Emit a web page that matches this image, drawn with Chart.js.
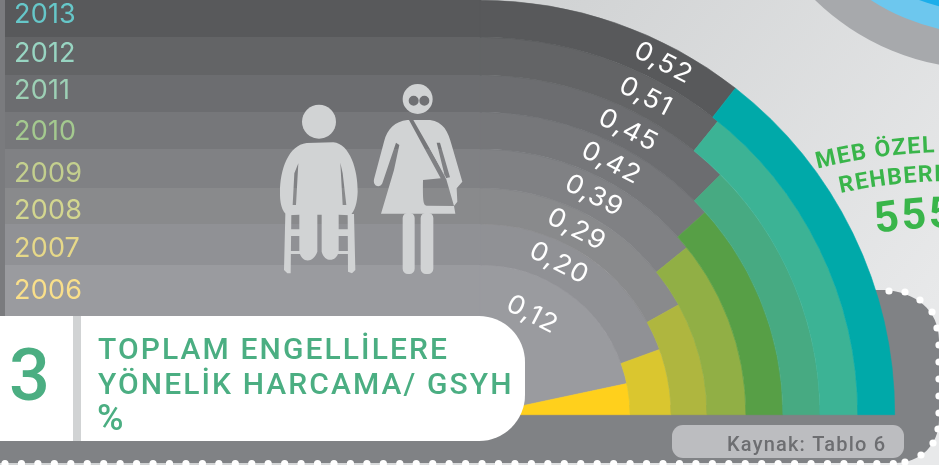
<!DOCTYPE html>
<html><head><meta charset="utf-8">
<style>html,body{margin:0;padding:0;background:#d8d9db;overflow:hidden}#w{position:absolute;left:0;top:0;width:939px;height:465px}</style>
<script src="https://cdn.jsdelivr.net/npm/chart.js@4"></script>
</head><body><div id="w"><canvas id="c" width="939" height="465"></canvas></div>
<script>
const years = ['2013','2012','2011','2010','2009','2008','2007','2006'];
const values = [0.52,0.51,0.45,0.42,0.39,0.29,0.20,0.12];
const valueLabels = ['0,52','0,51','0,45','0,42','0,39','0,29','0,20','0,12'];
const ringColors = ['#00a9a9','#3cb395','#47aa82','#579f46','#91af45','#afb63f','#dac62f','#ffd01c'];
const bandColors = ['#58595b','#636466','#6c6d70','#76777a','#808184','#898a8c','#909195','#9a9b9f'];
const yearColors = ['#66c7c9','#98d5c2','#9dd0b5','#a4c98f','#c3cf8e','#d3d68f','#e6d889','#f9df8a'];
const ringWeights = [37,38,37,37,39,36,41,150];
const labelInset = [18,19,19,19,19,18,20,37];
const yearBaselines = [23,62,99,140,182,219,257,299];
const FULL = 0.9;
const GREEN='#4bae82', LIGHT='#d1d3d4', DARK='#808285';
const FONT='Roboto, "Noto Sans", sans-serif';

function circ(ctx,x,y,r){ctx.moveTo(x+r,y);ctx.arc(x,y,r,0,Math.PI*2);}
function dotsAlong(ctx,pts){ctx.fillStyle='#fff';ctx.beginPath();pts.forEach(p=>circ(ctx,p[0],p[1],3.6));ctx.fill();}
function arcText(ctx,text,cx,cy,r,startDeg,font,color,spacing){
  ctx.save();ctx.font=font;ctx.fillStyle=color;ctx.textAlign='left';ctx.textBaseline='alphabetic';
  let a=startDeg*Math.PI/180;
  for(const ch of text){
    const cw=ctx.measureText(ch).width,w=cw+spacing;
    const t=a-w/2/r;
    ctx.save();ctx.translate(cx-r*Math.sin(t),cy-r*Math.cos(t));ctx.rotate(-t);
    ctx.fillText(ch,-cw/2,0);ctx.restore();
    a-=w/r;
  }
  ctx.restore();
}
function spaced(ctx,text,x,y,font,color,ls){ctx.save();ctx.font=font;ctx.fillStyle=color;ctx.letterSpacing=ls+'px';ctx.textAlign='left';ctx.textBaseline='alphabetic';ctx.fillText(text,x,y);ctx.restore();}
function rr(ctx,x,y,w,h,r){ctx.roundRect(x,y,w,h,r);}

function drawBackdrop(chart){
  const ctx=chart.ctx;ctx.save();
  const g=ctx.createLinearGradient(560,0,939,300);g.addColorStop(0,'#d1d3d4');g.addColorStop(1,'#e8e9ea');
  ctx.fillStyle=g;ctx.fillRect(0,0,939,465);
  [[244,'#a7a9ac'],[209,'#6dc7ee'],[187,'#1caeea']].forEach(a=>{ctx.fillStyle=a[1];ctx.beginPath();circ(ctx,985,-175,a[0]);ctx.fill();});
  ctx.fillStyle=DARK;ctx.beginPath();ctx.moveTo(0,405);ctx.lineTo(860,405);ctx.lineTo(860,290);ctx.lineTo(885,290);
  ctx.bezierCurveTo(915,292,939,310,939,340);ctx.lineTo(939,420);ctx.bezierCurveTo(939,445,920,463,895,463);ctx.lineTo(0,463);ctx.closePath();ctx.fill();
  ctx.fillStyle='#7a7b7e';ctx.fillRect(0,0,5,320);
  ctx.fillStyle=bandColors[7];ctx.fillRect(5,300,480,20);
  const metas=chart.getSortedVisibleDatasetMetas();
  metas.forEach((m,i)=>{const e=m.data[0];ctx.fillStyle=bandColors[i];ctx.fillRect(5,Math.round(e.y-e.outerRadius),e.x-4,Math.round(e.outerRadius));});
  ctx.restore();
}
function drawMan(ctx){
  ctx.save();ctx.translate(270,70);ctx.scale(1/3,1/3);ctx.fillStyle=LIGHT;
  ctx.beginPath();circ(ctx,147,155,51);ctx.fill();
  ctx.beginPath();
  ctx.moveTo(110,219);ctx.lineTo(190,217);ctx.bezierCurveTo(240,222,264,300,263,365);ctx.bezierCurveTo(262,395,255,425,240,436);
  ctx.lineTo(206,434);ctx.lineTo(206,545);ctx.bezierCurveTo(200,575,165,580,155,545);ctx.lineTo(155,434);ctx.lineTo(142,434);ctx.lineTo(142,545);ctx.bezierCurveTo(130,580,95,580,88,545);ctx.lineTo(88,434);
  ctx.lineTo(52,436);ctx.bezierCurveTo(35,425,29,395,30,365);ctx.bezierCurveTo(30,300,55,225,110,219);ctx.closePath();
  ctx.moveTo(85,280);ctx.lineTo(78,405);ctx.lineTo(68,405);ctx.lineTo(73,310);ctx.closePath();
  ctx.moveTo(211,278);ctx.lineTo(218,310);ctx.lineTo(229,405);ctx.lineTo(218,405);ctx.closePath();
  ctx.fill('evenodd');
  ctx.beginPath();
  ctx.moveTo(46,432);ctx.lineTo(64,432);ctx.lineTo(62,610);ctx.lineTo(52,610);ctx.lineTo(42,600);ctx.closePath();
  ctx.moveTo(233,432);ctx.lineTo(252,432);ctx.lineTo(256,600);ctx.lineTo(246,610);ctx.lineTo(234,605);ctx.closePath();
  ctx.rect(60,478,30,20);ctx.rect(204,478,32,20);ctx.rect(60,543,30,9);ctx.rect(204,543,32,9);
  ctx.fill();
  ctx.restore();
}
function drawWoman(ctx){
  ctx.save();ctx.translate(270,70);ctx.scale(1/3,1/3);ctx.fillStyle=LIGHT;
  ctx.beginPath();circ(ctx,443,87,45);ctx.fill();
  ctx.fillStyle='#6f7073';ctx.beginPath();circ(ctx,431,92,15);circ(ctx,463,92,15);ctx.fill();
  ctx.fillStyle=LIGHT;
  ctx.beginPath();
  ctx.moveTo(412,150);ctx.lineTo(480,150);ctx.bezierCurveTo(520,155,535,185,545,225);ctx.lineTo(577,335);ctx.lineTo(560,355);ctx.lineTo(562,395);ctx.lineTo(552,408);ctx.lineTo(556,431);
  ctx.lineTo(333,431);ctx.lineTo(372,300);ctx.lineTo(388,225);ctx.lineTo(378,218);ctx.lineTo(337,340);ctx.bezierCurveTo(330,355,308,350,312,328);ctx.lineTo(342,215);ctx.bezierCurveTo(352,175,375,155,412,150);ctx.closePath();
  ctx.moveTo(417,150);ctx.lineTo(430,150);ctx.lineTo(526,318);ctx.lineTo(552,408);ctx.lineTo(470,407);ctx.bezierCurveTo(460,405,458,395,459,330);ctx.lineTo(512,325);ctx.closePath();
  ctx.moveTo(500,218);ctx.lineTo(510,218);ctx.lineTo(540,322);ctx.lineTo(526,325);ctx.closePath();
  ctx.fill('evenodd');
  ctx.beginPath();ctx.moveTo(435,150);ctx.lineTo(470,155);ctx.lineTo(525,320);ctx.closePath();ctx.fill();
  ctx.beginPath();ctx.roundRect(398,428,36,184,16);ctx.roundRect(452,428,38,184,16);ctx.fill();
  ctx.restore();
}
function drawOverlay(chart){
  const ctx=chart.ctx;ctx.save();
  const metas=chart.getSortedVisibleDatasetMetas();
  const tilt=27.5*Math.PI/180;
  ctx.textAlign='center';ctx.textBaseline='middle';
  metas.forEach((m,i)=>{
    const e=m.data[0],r=e.outerRadius-labelInset[i];
    ctx.save();ctx.translate(e.x+r*Math.sin(tilt),e.y-r*Math.cos(tilt));ctx.rotate(tilt);ctx.scale(1.06,1);
    ctx.font='400 26px Inter, Lato, sans-serif';ctx.letterSpacing='1px';ctx.fillStyle='#fff';
    ctx.fillText(valueLabels[i],0,0);ctx.restore();
    spaced(ctx,years[i],14,yearBaselines[i],'400 27px Inter, Lato, sans-serif',yearColors[i],0.2);
  });
  drawMan(ctx);drawWoman(ctx);
  ctx.fillStyle='#fff';ctx.beginPath();rr(ctx,-40,316,565,125,[0,46,46,0]);ctx.fill();
  ctx.fillStyle=LIGHT;ctx.fillRect(73,316,8,125);
  spaced(ctx,'3',9,400,'500 72px '+FONT,GREEN,0);
  const tf='500 30px '+FONT;
  spaced(ctx,'TOPLAM ENGELLİLERE',98,359,tf,GREEN,2.1);
  spaced(ctx,'YÖNELİK HARCAMA/ GSYH',98,394,tf,GREEN,2.1);
  spaced(ctx,'%',97,430,'500 36px '+FONT,GREEN,0);
  ctx.fillStyle='#bcbdc0';ctx.beginPath();rr(ctx,672,425,232,33,11);ctx.fill();
  spaced(ctx,'Kaynak: Tablo 6',727,451,'500 20px '+FONT,'#6d6e71',1.2);
  const gr='#39b54a';
  arcText(ctx,'MEB ÖZEL',952,703,551,14.2,'700 23px '+FONT,gr,1.4);
  arcText(ctx,'REHBERLİK',952,703,522,12.4,'700 23px '+FONT,gr,1.4);
  arcText(ctx,'555',952,703,476,9.3,'700 43px '+FONT,gr,2);
  const pts=[];for(let x=5;x<=905;x+=16.45)pts.push([x,463.5]);
  [[889,291],[905,292],[920,300],[932,312],[937,328],[939,345],[939,362],[939,379],[939,396],[939,413],[938,429],[933,443],[921,455],[905,462]].forEach(p=>pts.push(p));
  dotsAlong(ctx,pts);
  ctx.restore();
}
const backdrop={id:'backdrop',beforeDatasetsDraw:drawBackdrop,afterDatasetsDraw:drawOverlay};
new Chart(document.getElementById('c'),{
  type:'doughnut',
  data:{labels:['rest','value'],datasets:values.map((v,i)=>({
    label:years[i],data:[FULL-v,v],backgroundColor:[bandColors[i],ringColors[i]],
    borderColor:[bandColors[i],ringColors[i]],borderWidth:0.6,weight:ringWeights[i]}))},
  options:{responsive:false,animation:false,rotation:0,circumference:90,cutout:0,
    layout:{padding:{left:480,right:44,top:0,bottom:50}},
    plugins:{legend:{display:false},tooltip:{enabled:false}}},
  plugins:[backdrop]
});
</script></body></html>
